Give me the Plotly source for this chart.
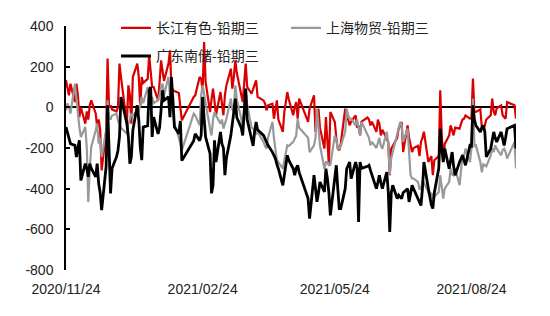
import pandas as pd
import plotly.graph_objects as go

# Trading calendar
START, END = "2020-11-24", "2021-09-23"
HOLIDAYS = ["2021-01-01", "2021-02-11", "2021-02-12", "2021-02-15", "2021-02-16",
            "2021-02-17", "2021-04-05", "2021-05-03", "2021-05-04", "2021-05-05",
            "2021-06-14", "2021-09-20", "2021-09-21"]

# 长江有色-铅期三
changjiang = [133, 90, 59, 116, 26, 116, 60, -48, 0, -80,
              -20, -60, 10, 34, -30, -97, -60, -110, -310, -120,
              240, 0, 10, -10, -20, 0, 215, 150, -80, 108,
              60, -80, 149, 215, 150, 0, 149, 120, 140, 256,
              182, 100, 100, 34, 120, 231, 180, 130, 215, 280,
              100, 84, 80, 70, 0, -64, 51, 59, 149, 141,
              80, 321, 125, -23, 40, 92, 30, -39, 75, 20,
              -39, 60, 108, 190, 92, 150, 231, 170, 60, 26,
              120, 215, 100, 67, 90, 110, 133, 51, 34, 20,
              -15, 10, 18, -56, 0, 34, -60, -121, -23, 30,
              75, 40, -39, 0, 26, -56, 43, -72, -7, 59,
              -121, -60, -7, -100, -203, -48, -150, -285, -23, -72,
              -150, -203, -211, -180, -7, -56, -60, -88, -70, -39,
              -100, -89, -138, -70, -50, -60, -89, -70, -121, -60,
              -80, -138, -110, -150, -170, -334, -203, -190, -150, -105,
              -90, -72, -220, -89, -150, -190, -220, -200, -190, -240,
              -170, -150, -120, -269, -250, -240, -334, -260, -240, 84,
              -138, -269, -180, -138, -89, -120, -138, -100, -105, -80,
              -60, -56, -40, -56, -50, 141, -23, -23, -10, -100,
              -105, -90, -60, -39, 43, -20, -39, -5, 10, -39,
              -50, -56, 26, 10, -56]
# 上海物贸-铅期三
shanghai = [-15, 20, 0, -31, 116, 40, -31, -97, -146, -97,
            -200, -466, -300, -195, -113, -80, -179, -150, -244, -113,
            34, -48, -60, -40, -31, -64, -80, -100, -130, -80,
            -60, -31, -40, -15, -20, 20, 51, 20, 100, 60,
            40, 51, 20, 34, 60, 100, 116, 60, 150, 60,
            18, -30, -80, -150, -180, -211, -31, -39, -89, 59,
            108, 59, 20, -105, -138, -60, -23, -40, -80, -60,
            -105, -80, -56, 43, -10, -23, 108, 40, -56, -105,
            20, 92, 10, -100, -105, -120, -130, -121, -170, -190,
            -203, -150, -72, -150, -220, -260, -270, -302, -260, -220,
            -187, -190, -170, -154, -140, -56, -100, -150, -220, -187,
            -150, -7, -100, -187, -302, -270, -269, -285, -283, -138,
            -160, -203, -203, -190, -120, -7, -40, -56, -56, -89,
            -60, -105, -138, -72, -138, -150, -187, -170, -200, -170,
            -150, -190, -203, -120, -187, -330, -250, -220, -138, -100,
            -72, -90, -170, -105, -200, -334, -350, -350, -367, -401,
            -401, -367, -370, -416, -432, -420, -449, -440, -416, -334,
            -400, -449, -400, -367, -302, -330, -334, -300, -383, -300,
            -236, -240, -203, -270, -200, 43, -190, -187, -270, -320,
            -280, -285, -290, -236, -203, -220, -187, -203, -236, -210,
            -203, -220, -252, -170, -301]
# 广东南储-铅期三
guangdong = [-97, -130, -162, -179, -187, -244, -200, -162, -359, -277,
             -300, -342, -277, -300, -342, -277, -375, -420, -506, -293,
             10, -200, -423, -300, -244, -211, -146, 51, -80, -146,
             -277, -244, -113, 10, -60, -195, -260, -97, -90, 84,
             100, -146, -48, -131, -100, -15, 84, 34, 51, -48,
             149, 34, -97, -130, -67, -262, -164, -130, -164, -138,
             51, -56, -146, -228, -423, -384, -162, -269, -121, -180,
             -200, -334, -250, -138, -90, -23, 43, -50, -100, -138,
             -20, 92, -60, -170, -190, -120, -72, -110, -138, -154,
             -170, -187, -220, -236, -252, -280, -302, -384, -330, -269,
             -236, -260, -302, -334, -300, -285, -320, -449, -547, -334,
             -400, -465, -420, -367, -416, -302, -350, -420, -531, -334,
             -285, -400, -498, -498, -400, -302, -280, -269, -351, -269,
             -300, -564, -269, -300, -290, -285, -310, -334, -400, -370,
             -334, -370, -400, -318, -416, -613, -420, -383, -449, -432,
             -440, -449, -420, -400, -465, -420, -383, -400, -449, -460,
             -483, -400, -269, -400, -450, -480, -498, -420, -300, -105,
             -200, -269, -203, -302, -260, -220, -290, -334, -269, -250,
             -236, -260, -285, -187, -190, 10, -60, -89, -121, -100,
             -89, -120, -244, -203, -150, -121, -150, -170, -121, -150,
             -187, -150, -105, -89, -203]

SERIES_NAMES = ["长江有色-铅期三", "上海物贸-铅期三", "广东南储-铅期三"]
SERIES_COLORS = ["#DA0000", "#999999", "#000000"]

X_TICKS = ["2020-11-24", "2021-02-24", "2021-05-24", "2021-08-24"]
X_LABELS = ["2020/11/24", "2021/02/24", "2021/05/24", "2021/08/24"]
Y_TICKS = [-800, -600, -400, -200, 0, 200, 400]
Y_LABELS = ["-800", "-600", "-400", "-200", "0", "200", "400"]

days = pd.bdate_range(START, END)
dates = days[~days.isin(pd.to_datetime(HOLIDAYS))]
for s in (changjiang, shanghai, guangdong):
    if len(s) != len(dates):
        raise ValueError(f"length mismatch {len(s)} vs {len(dates)}")

fig = go.Figure()
widths = [2.2, 2.2, 2.8]
legends = ["legend", "legend", "legend2"]
for name, vals, col, w, lg in zip(SERIES_NAMES, [changjiang, shanghai, guangdong],
                                  SERIES_COLORS, widths, legends):
    fig.add_trace(go.Scatter(x=dates, y=vals, mode="lines", name=name,
                             line=dict(color=col, width=w), legend=lg))

tick_font = dict(family="Liberation Sans, Arial, sans-serif", size=14, color="#222222")
leg_font = dict(family="Noto Sans CJK SC, sans-serif", size=14, color="#222222")

fig.update_layout(
    width=550, height=316,
    margin=dict(l=66, r=34, t=26, b=46),
    paper_bgcolor="white", plot_bgcolor="white",
    showlegend=True,
    legend=dict(orientation="h", x=0.111, xanchor="left", y=1.056, yanchor="top",
                entrywidth=125, entrywidthmode="pixels", font=leg_font,
                bgcolor="rgba(0,0,0,0)", traceorder="normal"),
    legend2=dict(orientation="h", x=0.111, xanchor="left", y=0.941, yanchor="top",
                 font=leg_font, bgcolor="rgba(0,0,0,0)"),
    xaxis=dict(type="date", range=[START, END], tickvals=X_TICKS, ticktext=X_LABELS,
               showgrid=False, showline=False, zeroline=False,
               ticks="outside", ticklen=6, tickcolor="rgba(0,0,0,0)",
               tickfont=tick_font),
    yaxis=dict(range=[-800, 400], tickvals=Y_TICKS, ticktext=Y_LABELS,
               showgrid=False, showline=True, linecolor="black", linewidth=1.5,
               ticks="inside", ticklen=4, tickcolor="black", tickwidth=1.5,
               zeroline=True, zerolinecolor="black", zerolinewidth=1.5,
               ticklabelstandoff=8, tickfont=tick_font),
)

fig.write_html("out.html")
